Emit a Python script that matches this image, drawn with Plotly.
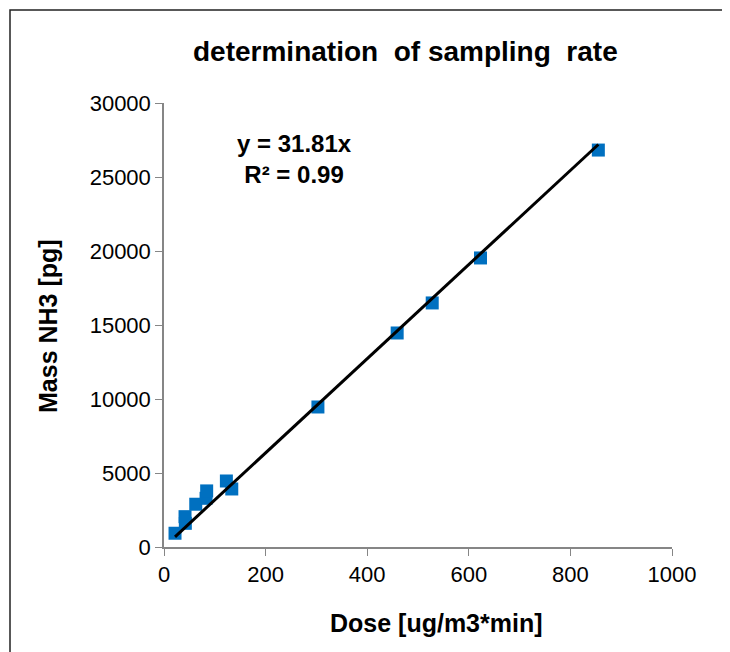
import numpy as np
import plotly.graph_objects as go

# Data
dose = [21.7, 41.4, 42.0, 62.5, 82.8, 84.0, 122.8, 133.4, 303, 459, 528, 623, 855]
mass = [930, 2050, 1600, 2890, 3290, 3790, 4460, 3920, 9460, 14460, 16490, 19530, 26820]
slope = 31.81
r2 = 0.99

title_text = "determination  of sampling  rate"
x_title = "Dose [ug/m3*min]"
y_title = "Mass NH3 [pg]"

FONT = "Liberation Sans, Arial, sans-serif"

fig = go.Figure()

fig.add_trace(go.Scatter(
    x=dose, y=mass, mode="markers",
    marker=dict(symbol="square", size=13, color="#0070C0",
                line=dict(width=0)),
    showlegend=False, hoverinfo="x+y",
))

xfit = np.array([min(dose), max(dose)])
fig.add_trace(go.Scatter(
    x=xfit, y=slope * xfit, mode="lines",
    line=dict(color="black", width=3),
    showlegend=False, hoverinfo="skip",
))

OFF = 8  # page body margin
W, H = 722, 644
L, T = 164 - OFF, 103 - OFF
pw, ph = 508, 444
R = W - L - pw
B = H - T - ph

def px_x(p):
    return (p - OFF - L) / pw

def px_y(p):
    return (H - B - (p - OFF)) / ph

fig.update_layout(
    width=W, height=H,
    margin=dict(l=L, r=R, t=T, b=B),
    paper_bgcolor="white", plot_bgcolor="white",
    font=dict(family=FONT, color="black", size=22),
    xaxis=dict(range=[0, 1000], dtick=200, showgrid=False, zeroline=False,
               showline=True, linecolor="#868686", linewidth=1.5,
               ticks="outside", ticklen=7, tickcolor="#868686",
               tickformat="d",
               tickfont=dict(size=22, family=FONT, color="black")),
    yaxis=dict(range=[0, 30000], dtick=5000, showgrid=False, zeroline=False,
               showline=True, linecolor="#868686", linewidth=1.5,
               ticks="outside", ticklen=7, tickcolor="#868686",
               tickformat="d",
               tickfont=dict(size=22, family=FONT, color="black")),
    shapes=[dict(type="rect", xref="paper", yref="paper",
                 x0=px_x(10), x1=px_x(745), y0=px_y(670), y1=px_y(10),
                 line=dict(color="#222222", width=1.5), layer="below")],
    annotations=[
        dict(text="<b>%s</b>" % title_text, xref="paper", yref="paper",
             x=px_x(405), y=px_y(52), showarrow=False,
             font=dict(size=28, family=FONT), xanchor="center", yanchor="middle"),
        dict(text="<b>%s</b>" % x_title, xref="paper", yref="paper",
             x=px_x(436), y=px_y(623), showarrow=False,
             font=dict(size=25, family=FONT), xanchor="center", yanchor="middle"),
        dict(text="<b>%s</b>" % y_title, xref="paper", yref="paper",
             x=px_x(48), y=px_y(326), showarrow=False, textangle=-90,
             font=dict(size=25, family=FONT), xanchor="center", yanchor="middle"),
        dict(text="<b>y = %.2fx<br>R² = %.2f</b>" % (slope, r2), xref="paper", yref="paper",
             x=px_x(294), y=px_y(159), showarrow=False, align="center",
             font=dict(size=24, family=FONT), xanchor="center", yanchor="middle"),
    ],
)

fig.write_html("out.html")
